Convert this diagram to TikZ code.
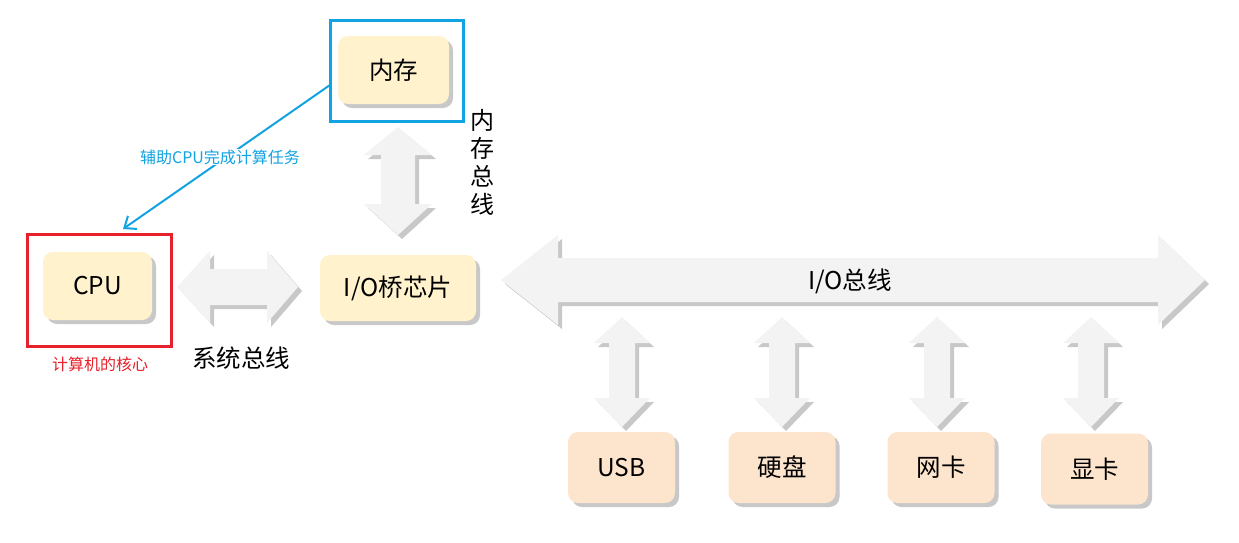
\documentclass[tikz,border=0pt]{standalone}
\usepackage{fontspec}
\setmainfont{Noto Sans CJK SC}
\usetikzlibrary{shadows,arrows.meta}
\definecolor{cream}{HTML}{FFF2CC}
\definecolor{peach}{HTML}{FDE5CD}
\definecolor{boxshadow}{HTML}{C8C8C8}
\definecolor{arrfill}{HTML}{F3F3F3}
\definecolor{arrshadow}{HTML}{C8C8C8}
\definecolor{frameblue}{HTML}{12A3E3}
\definecolor{framered}{HTML}{E8202A}
\newcommand\hdbl[7]{% x1 x2 c b h L1 L2
  \fill[arrshadow,shift={(4,4)}] (#1,#3) -- (#1+#6,#3-#5) -- (#1+#6,#3-#4) -- (#2-#7,#3-#4) -- (#2-#7,#3-#5) -- (#2,#3) -- (#2-#7,#3+#5) -- (#2-#7,#3+#4) -- (#1+#6,#3+#4) -- (#1+#6,#3+#5) -- cycle;
  \fill[arrfill] (#1,#3) -- (#1+#6,#3-#5) -- (#1+#6,#3-#4) -- (#2-#7,#3-#4) -- (#2-#7,#3-#5) -- (#2,#3) -- (#2-#7,#3+#5) -- (#2-#7,#3+#4) -- (#1+#6,#3+#4) -- (#1+#6,#3+#5) -- cycle;
}
\newcommand\vdbl[7]{% cx y1 y2 b h L1 L2
  \fill[arrshadow,shift={(4,4)}] (#1,#2) -- (#1+#5,#2+#6) -- (#1+#4,#2+#6) -- (#1+#4,#3-#7) -- (#1+#5,#3-#7) -- (#1,#3) -- (#1-#5,#3-#7) -- (#1-#4,#3-#7) -- (#1-#4,#2+#6) -- (#1-#5,#2+#6) -- cycle;
  \fill[arrfill] (#1,#2) -- (#1+#5,#2+#6) -- (#1+#4,#2+#6) -- (#1+#4,#3-#7) -- (#1+#5,#3-#7) -- (#1,#3) -- (#1-#5,#3-#7) -- (#1-#4,#3-#7) -- (#1-#4,#2+#6) -- (#1-#5,#2+#6) -- cycle;
}
\tikzset{
  box/.style={rounded corners=10pt, inner sep=0pt, minimum height=68pt,
    drop shadow={shadow xshift=4pt, shadow yshift=-4pt, fill=boxshadow, opacity=1},
    font=\fontsize{24.5}{28}\selectfont},
  upbox/.style={box, fill=cream},
  devbox/.style={box, fill=peach, minimum width=107pt, minimum height=71pt},
  frame/.style={line width=3pt, inner sep=0pt, fill=none},
  bigtext/.style={font=\fontsize{24.5}{28}\selectfont, inner sep=0pt},
  smalltext/.style={font=\fontsize{16}{19}\selectfont, inner sep=1pt}
}
\begin{document}
\begin{tikzpicture}[x=1pt,y=-1pt]
\useasboundingbox (0,0) rectangle (1239,542);
\fill[white] (0,0) rectangle (1239,542);
% bus arrows
\hdbl{177}{298}{287}{18}{36}{33}{31}
\vdbl{398}{127}{235}{17}{34}{28}{31}
\hdbl{501}{1205}{280}{22}{45}{57}{47}
\vdbl{622}{317}{427}{13}{28}{26}{29}
\vdbl{782}{317}{427}{13}{28}{26}{29}
\vdbl{937}{317}{427}{13}{28}{26}{29}
\vdbl{1091}{317}{427}{13}{28}{26}{29}
% boxes
\node[upbox, minimum width=111pt] (mem) at (393.5,70) {内存};
\node[upbox, minimum width=109pt] (cpu) at (97.5,286) {CPU};
\node[upbox, minimum width=156pt, minimum height=66pt] (bridge) at (398,288) {I/O桥芯片};
\node[devbox] (usb) at (621.5,467.5) {USB};
\node[devbox] (disk) at (782,467.5) {硬盘};
\node[devbox] (nic) at (941,467.5) {网卡};
\node[devbox] (gpu) at (1094.5,469) {显卡};
% frames
\node[frame, draw=frameblue, minimum width=133pt, minimum height=101pt] (memframe) at (396.5,70.5) {};
\node[frame, draw=framered, minimum width=144pt, minimum height=112pt] (cpuframe) at (99,290) {};
% labels
\node[bigtext] (sysbus) at (241,358) {系统总线};
\node[bigtext] (iobus) at (850,281) {I/O总线};
\node[bigtext, align=center, font=\fontsize{24}{28}\selectfont] (membus) at (482,162) {内\\存\\总\\线};
\node[smalltext, text=framered] (core) at (100,364) {计算机的核心};
% helper arrow
\coordinate (helpfrom) at (330,85);
\coordinate (helpto) at (123,229);
\draw[frameblue, line width=2pt, -{Straight Barb[length=10pt,width=16pt,line width=2pt]}] (helpfrom) -- (helpto);
\node[smalltext, text=frameblue, fill=white] (help) at (220,157) {辅助CPU完成计算任务};
\end{tikzpicture}
\end{document}
